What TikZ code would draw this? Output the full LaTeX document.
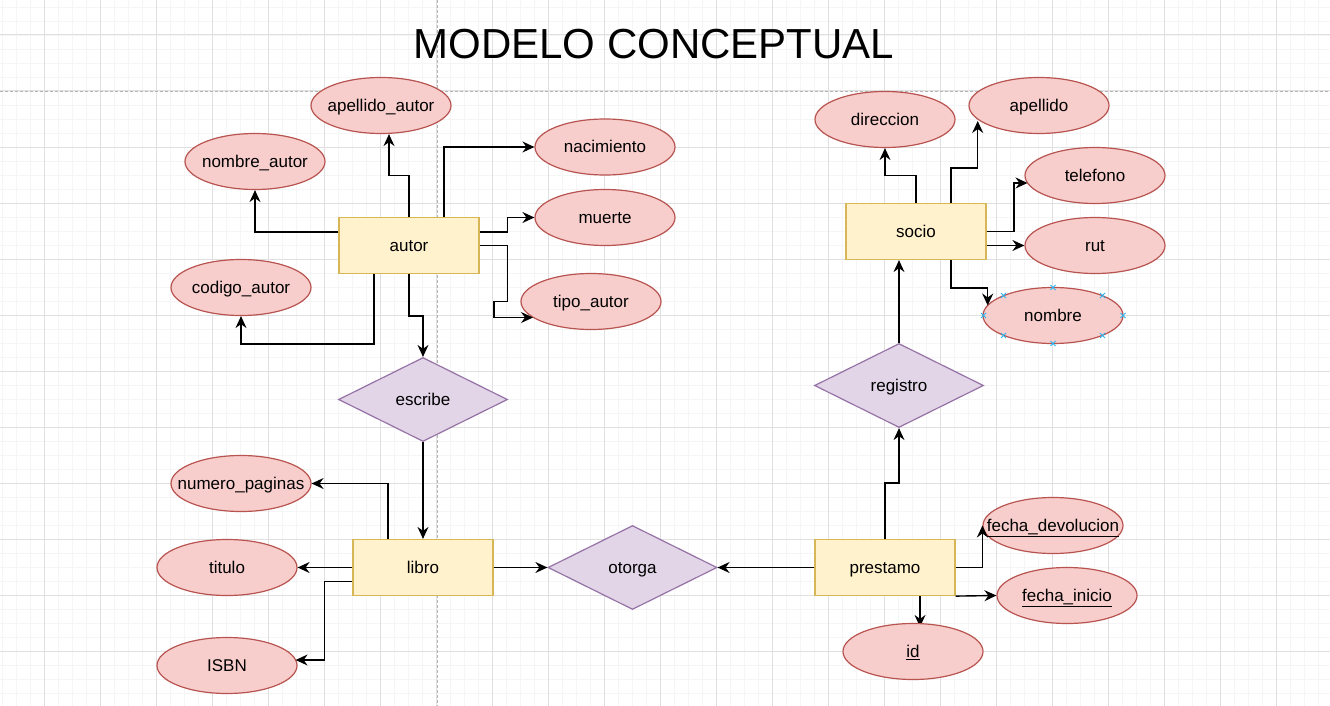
\documentclass[tikz,border=0pt]{standalone}
\usepackage{fontspec}
\setmainfont{Liberation Sans}
\usetikzlibrary{shapes.geometric,arrows.meta,calc}
\pgfdeclarelayer{bg}
\pgfsetlayers{bg,main}
\definecolor{entfill}{HTML}{FFF2CC}
\definecolor{entdraw}{HTML}{D6B656}
\definecolor{relfill}{HTML}{E1D5E7}
\definecolor{reldraw}{HTML}{9673A6}
\definecolor{attfill}{HTML}{F8CECC}
\definecolor{attdraw}{HTML}{B85450}
\definecolor{handlecol}{HTML}{29B6F2}
\definecolor{gridmajor}{HTML}{E0E0E0}
\definecolor{gridminor}{HTML}{F5F5F5}
\definecolor{guidecol}{HTML}{B4B4B4}
\newcommand\zw[1]{\makebox[0pt]{#1}}
\begin{document}
\begin{tikzpicture}[x=1pt,y=-1pt,
  every node/.style={font=\fontsize{17}{20}\selectfont, text=black},
  txt/.style={text height=14pt, text depth=2pt},
  entity/.style={txt, rectangle, draw=entdraw, fill=entfill, line width=1.2pt, minimum width=140, minimum height=56, inner sep=0pt},
  rel/.style={txt, diamond, draw=reldraw, fill=relfill, line width=1.2pt, minimum width=169, minimum height=84, inner sep=0pt, shape aspect=2},
  attr/.style={txt, ellipse, draw=attdraw, fill=attfill, line width=1.2pt, minimum width=140, minimum height=56, inner sep=0pt},
  arr/.style={draw=black, line width=1.4pt, -{Stealth[length=12pt,width=11pt,inset=4pt]}},
  gmin/.style={draw=gridminor, line width=0.8pt},
  gmaj/.style={draw=gridmajor, line width=1pt},
  guide/.style={draw=guidecol, line width=0.9pt, dash pattern=on 3pt off 2pt},
  handle/.style={draw=handlecol, line width=1pt}
]
\useasboundingbox (0,0) rectangle (1330,706);
\begin{pgfonlayer}{bg}
\fill[white] (0,0) rectangle (1330,706);
\foreach \x in {2,16,...,1330} \draw[gmin] (\x,0) -- (\x,706);
\foreach \y in {7,21,...,706} \draw[gmin] (0,\y) -- (1330,\y);
\foreach \x in {44,100,...,1330} \draw[gmaj] (\x,0) -- (\x,706);
\foreach \y in {35,91,...,706} \draw[gmaj] (0,\y) -- (1330,\y);
\draw[guide] (0,91) -- (1330,91);
\draw[guide] (437,0) -- (437,706);
\end{pgfonlayer}

% title
\node[font=\fontsize{42}{50}\selectfont, anchor=base] (title) at (654,58.5) {MODELO CONCEPTUAL};

% entities
\node[entity] (autor) at (409,245.5) {autor};
\node[entity] (socio) at (916,231.5) {socio};
\node[entity] (libro) at (423,567.5) {libro};
\node[entity] (prestamo) at (885,567.5) {prestamo};

% relationships
\node[rel] (escribe) at (423,399.5) {escribe};
\node[rel] (otorga) at (632.5,567.5) {otorga};
\node[rel] (registro) at (899,385.5) {registro};

% attributes
\node[attr] (apellidoautor) at (381,105.5) {\zw{apellido\_autor}};
\node[attr] (nombreautor) at (255,161.5) {\zw{nombre\_autor}};
\node[attr] (codigoautor) at (241,287.5) {\zw{codigo\_autor}};
\node[attr] (nacimiento) at (605,147) {\zw{nacimiento}};
\node[attr] (muerte) at (605,217.5) {\zw{muerte}};
\node[attr] (tipoautor) at (591,301.5) {\zw{tipo\_autor}};
\node[attr] (direccion) at (885,119.5) {\zw{direccion}};
\node[attr] (apellido) at (1039,105.5) {\zw{apellido}};
\node[attr] (telefono) at (1095,175.5) {\zw{telefono}};
\node[attr] (rut) at (1095,245.5) {\zw{rut}};
\node[attr] (nombre) at (1053,315.5) {\zw{nombre}};
\node[attr] (numeropaginas) at (241,483.5) {\zw{numero\_paginas}};
\node[attr] (titulo) at (227,567.5) {\zw{titulo}};
\node[attr] (isbn) at (227,665.5) {\zw{ISBN}};
\node[attr] (fechadev) at (1053,525.5) {\zw{\underline{fecha\_devolucion}}};
\node[attr] (fechaini) at (1067,595.5) {\zw{\underline{fecha\_inicio}}};
\node[attr] (id) at (913,651.5) {\zw{\underline{id}}};

% selection handles on nombre
\foreach \hx/\hy in {1053/287.5,1053/343.5,983.5/315.5,1123/315.5,1003.5/295.5,1102.5/295.5,1003.5/335.5,1102.5/335.5}
  \draw[handle] (\hx-2.5,\hy-2.5) -- (\hx+2.5,\hy+2.5) (\hx-2.5,\hy+2.5) -- (\hx+2.5,\hy-2.5);

% autor connectors
\draw[arr] (autor.west |- 0,232) -| (nombreautor.south);
\draw[arr] (autor.north) -- ++(0,-41.5) -| ($(apellidoautor.south)+(8,0)$);
\draw[arr] (autor.north -| 444,0) |- (nacimiento.west);
\draw[arr] (autor.east |- 0,232) -- ++(28,0) |- (muerte.west);
\draw[arr] (autor.east |- 0,245.5) -- ++(28,0) -- ++(0,56) -- ++(-13.5,0) -- ++(0,16) -- ($(tipoautor.center)+(-58,16)$);
\draw[arr] (autor.south -| 374,0) -- ++(0,70) -| (codigoautor.south);
\draw[arr] (autor.south) -- ++(0,42) -| (escribe.north);
\draw[arr] (escribe.south) -- (libro.north);

% libro connectors
\draw[arr] (libro.north -| 388,0) |- (numeropaginas.east);
\draw[arr] (libro.west) -- (titulo.east);
\draw[arr] (libro.west |- 0,581.7) -- ++(-28,0) |- ($(isbn.center)+(68.6,-5.5)$);
\draw[arr] (libro.east) -- (otorga.west);

% prestamo connectors
\draw[arr] (prestamo.west) -- (otorga.east);
\draw[arr] (prestamo.north) -- ++(0,-56) -| (registro.south);
\draw[arr] (prestamo.east) -| (fechadev.west);
\draw[arr] (prestamo.south east) -- (fechaini.west);
\begin{pgfonlayer}{bg}
\draw[arr] (prestamo.south -| 920,0) -- ($(id.north)+(7,4)$);
\end{pgfonlayer}

% registro / socio connectors
\draw[arr] (registro.north) -- (socio.south -| registro.north);
\draw[arr] (socio.north) -- ++(0,-27.5) -| (direccion.south);
\draw[arr] (socio.north -| 951,0) -- ++(0,-35) -| ($(apellido.center)+(-61.3,15.5)$);
\draw[arr] (socio.east) -- ++(27.3,0) |- ($(telefono.center)+(-67.5,7.5)$);
\draw[arr] (socio.east |- 0,245.5) -- (rut.west);
\draw[arr] (socio.south -| 951,0) -- ++(0,28) -| ($(nombre.center)+(-65.3,-10)$);
\end{tikzpicture}
\end{document}
